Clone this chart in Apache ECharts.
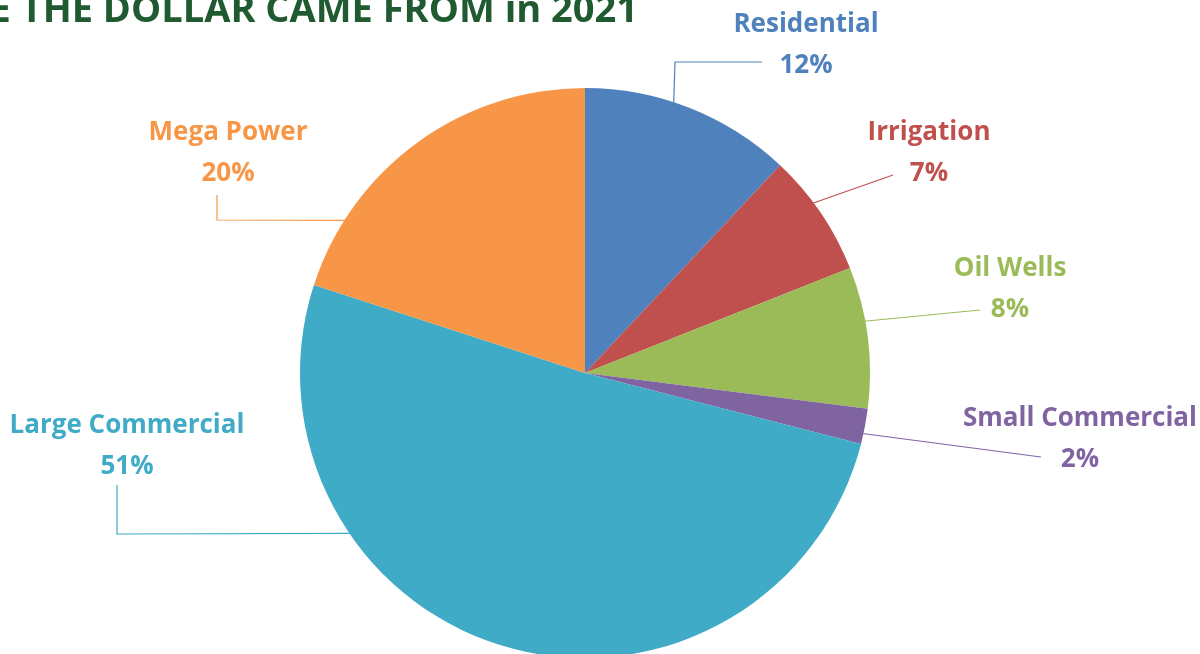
<!DOCTYPE html>
<html>
<head>
<meta charset="utf-8">
<script src="https://cdn.jsdelivr.net/npm/echarts@6/dist/echarts.min.js"></script>
<style>
  html, body { margin: 0; padding: 0; background: #ffffff; }
  #chart { width: 1200px; height: 654px; }
</style>
</head>
<body>
<div id="chart"></div>
<script>
// ---- data ----
const titleText = 'WHERE THE DOLLAR CAME FROM in 2021';
const categories = ['Residential', 'Irrigation', 'Oil Wells', 'Small Commercial', 'Large Commercial', 'Mega Power'];
const shares = [12, 7, 8, 2, 51, 20];

// ---- styling / layout ----
const colors = ['#4f81bd', '#c0504d', '#9bbb59', '#8064a2', '#40abc6', '#f79646'];
const pieCenter = [585, 373];
const pieRadius = 285;
// label block centre, leader start angle (deg clockwise from top), leader remaining points
const labelLayouts = [
  { pos: [806, 45],  angle: 18.2,  pts: [[675, 62], [762, 62]] },
  { pos: [929, 153], angle: 53.3,  pts: [[893, 175]] },
  { pos: [1010, 289], angle: 79.5, pts: [[980, 310]] },
  { pos: [1080, 439], angle: 102.3, pts: [[1041, 457]] },
  { pos: [127, 446], angle: 235.6, pts: [[117, 534], [117, 485]] },
  { pos: [228, 153], angle: 302.5, pts: [[217, 220], [217, 195]] }
];

const chart = echarts.init(document.getElementById('chart'), null, { renderer: 'canvas' });

const seriesData = categories.map((name, i) => ({
  name: name,
  value: shares[i],
  itemStyle: { color: colors[i] },
  label: { color: colors[i] },
  labelLine: { lineStyle: { color: colors[i] } }
}));

chart.setOption({
  backgroundColor: '#ffffff',
  animation: false,
  title: {
    text: titleText,
    right: 557,
    top: -13,
    textAlign: 'left',
    textStyle: {
      fontFamily: 'Open Sans',
      fontWeight: 'bold',
      fontSize: 38,
      color: '#1f5a30'
    }
  },
  series: [{
    type: 'pie',
    center: pieCenter,
    radius: pieRadius,
    startAngle: 90,
    clockwise: true,
    avoidLabelOverlap: false,
    data: seriesData,
    itemStyle: { borderWidth: 0 },
    label: {
      show: true,
      position: 'outside',
      formatter: '{b}\n{c}%',
      fontFamily: 'Open Sans',
      fontWeight: 'bold',
      fontSize: 26,
      lineHeight: 41,
      align: 'center'
    },
    labelLine: {
      show: true,
      length: 10,
      length2: 10,
      lineStyle: { width: 1.2 }
    },
    labelLayout: function (params) {
      const L = labelLayouts[params.dataIndex];
      const a = L.angle * Math.PI / 180;
      const r = pieRadius - 1;
      const start = [pieCenter[0] + r * Math.sin(a), pieCenter[1] - r * Math.cos(a)];
      let points = [start].concat(L.pts);
      if (points.length === 2) points = [start, L.pts[0], L.pts[0]];
      return {
        x: L.pos[0],
        y: L.pos[1],
        align: 'center',
        verticalAlign: 'middle',
        labelLinePoints: points
      };
    }
  }]
});
</script>
</body>
</html>
